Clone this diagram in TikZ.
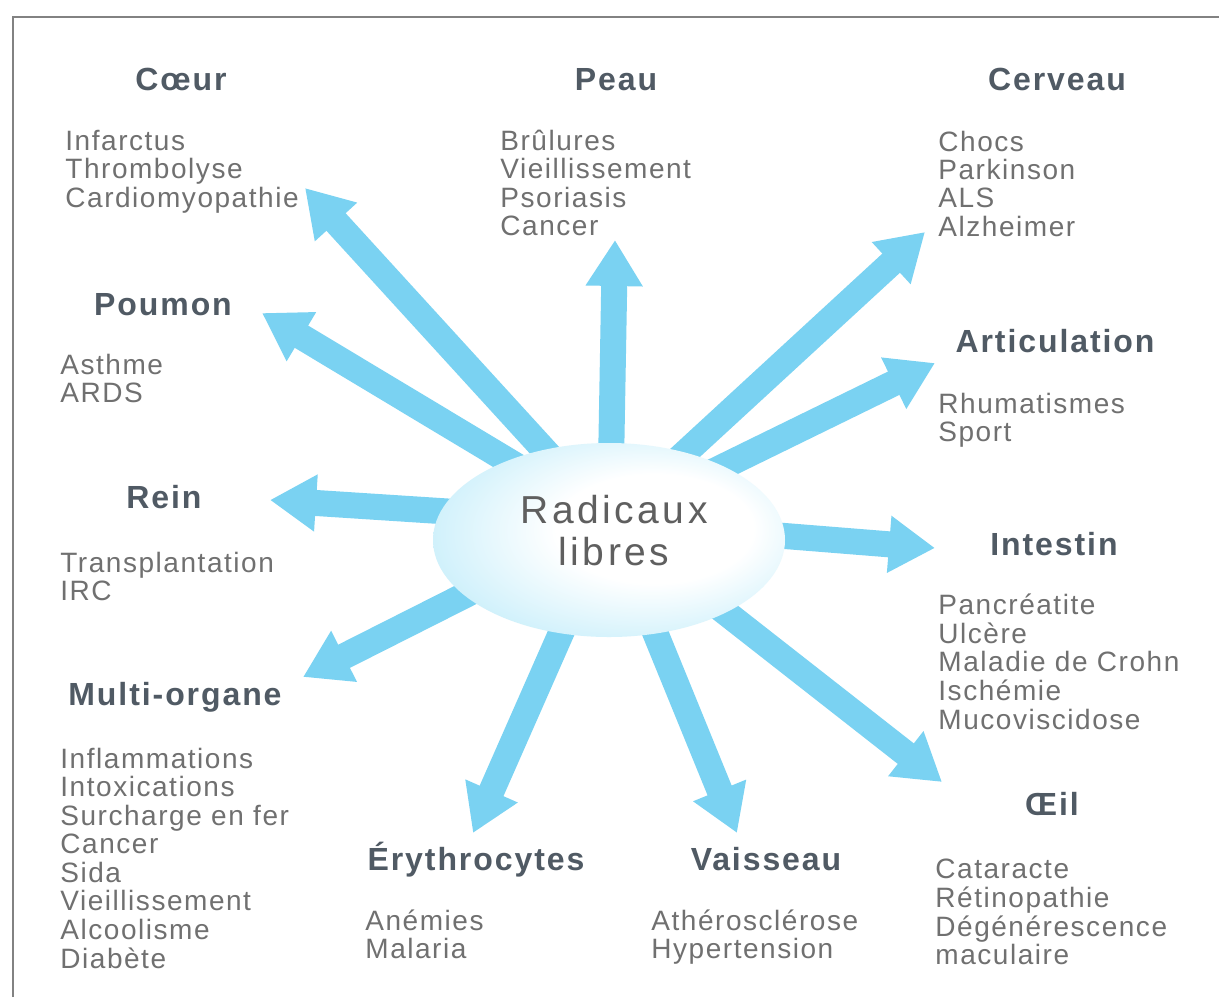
\documentclass[tikz,border=0pt]{standalone}
\usepackage{fontspec}
\setmainfont{Liberation Sans}
\newfontfamily\bodyf[LetterSpace=5.5]{Liberation Sans}
\newfontfamily\headf[LetterSpace=6]{Liberation Sans}
\newfontfamily\centf[LetterSpace=9]{Liberation Sans}
\usetikzlibrary{arrows.meta,shapes.geometric}
\definecolor{arrowc}{RGB}{122,210,242}
\definecolor{bodyc}{RGB}{112,112,112}
\definecolor{headc}{RGB}{80,90,100}
\definecolor{centc}{RGB}{95,95,95}
\definecolor{rlc}{RGB}{205,240,251}
\definecolor{framec}{RGB}{130,130,130}
\pgfdeclareradialshading{rlshade}{\pgfpoint{9bp}{4bp}}{color(0bp)=(white); color(14bp)=(white); color(30bp)=(rlc); color(50bp)=(rlc)}
\newcommand\ilist[1]{\begin{tabular}[t]{@{}l@{}}#1\end{tabular}}
\tikzset{
  bigarrow/.style={draw=arrowc, line width=13pt, -{Triangle[width=27pt,length=23pt]}},
  headtxt/.style={anchor=base, inner sep=0pt, text=headc, font={\headf\bfseries\fontsize{16}{16}\selectfont}},
  bodytxt/.style={anchor=base west, inner sep=0pt, text=bodyc, font={\bodyf\fontsize{14}{14}\selectfont}},
  centtxt/.style={align=center, inner sep=0pt, text=centc, font={\centf\fontsize{19.5}{21}\selectfont}},
  hubshape/.style={ellipse, draw=none, shading=rlshade, minimum width=176pt, minimum height=97pt, inner sep=0pt}
}
\begin{document}
\begin{tikzpicture}[x=0.5pt,y=-0.5pt]
\useasboundingbox (0,0) rectangle (1219,997);
\fill[white] (0,0) rectangle (1219,997);
% frame
\draw[framec, line width=0.9pt] (13,997) -- (13,17) -- (1219,17);

% arrow ends
\coordinate (hub) at (610,522);
\coordinate (tCoeur) at (305,188);
\coordinate (tPoumon) at (262,313);
\coordinate (tPeau) at (615,240);
\coordinate (tCerveau) at (925,232);
\coordinate (tArtic) at (935,363);
\coordinate (tRein) at (270,500);
\coordinate (tIntestin) at (935,548);
\coordinate (tMulti) at (303,677);
\coordinate (tEryth) at (473,833);
\coordinate (tVaiss) at (737,833);
\coordinate (tOeil) at (942,782);

\foreach \t in {tCoeur,tPoumon,tPeau,tCerveau,tArtic,tRein,tIntestin,tMulti,tEryth,tVaiss,tOeil}
  \draw[bigarrow] (hub) -- (\t);

% centre
\node[hubshape] (rl) at (609,540) {};
\node[centtxt] (rlt) at (614,531) {Radicaux\\libres};

% headings
\node[headtxt] (hCoeur) at (181,90) {Cœur};
\node[headtxt] (hPeau) at (616,90) {Peau};
\node[headtxt] (hCerveau) at (1057,90) {Cerveau};
\node[headtxt] (hPoumon) at (163,315) {Poumon};
\node[headtxt] (hArtic) at (1055,352) {Articulation};
\node[headtxt] (hRein) at (164,508) {Rein};
\node[headtxt] (hIntestin) at (1054,555) {Intestin};
\node[headtxt] (hMulti) at (175,705) {Multi-organe};
\node[headtxt] (hOeil) at (1052,815) {Œil};
\node[headtxt] (hEryth) at (476,870) {Érythrocytes};
\node[headtxt] (hVaiss) at (766,870) {Vaisseau};

% lists
\node[bodytxt] (lCoeur) at (65,150) {\ilist{Infarctus\\Thrombolyse\\Cardiomyopathie}};
\node[bodytxt] (lPeau) at (500,150) {\ilist{Brûlures\\Vieillissement\\Psoriasis\\Cancer}};
\node[bodytxt] (lCerveau) at (938,151) {\ilist{Chocs\\Parkinson\\ALS\\Alzheimer}};
\node[bodytxt] (lPoumon) at (60,374) {\ilist{Asthme\\ARDS}};
\node[bodytxt] (lArtic) at (938,413) {\ilist{Rhumatismes\\Sport}};
\node[bodytxt] (lRein) at (60,572) {\ilist{Transplantation\\IRC}};
\node[bodytxt] (lIntestin) at (938,614) {\ilist{Pancréatite\\Ulcère\\Maladie de Crohn\\Ischémie\\Mucoviscidose}};
\node[bodytxt] (lMulti) at (60,768) {\ilist{Inflammations\\Intoxications\\Surcharge en fer\\Cancer\\Sida\\Vieillissement\\Alcoolisme\\Diabète}};
\node[bodytxt] (lEryth) at (365,930) {\ilist{Anémies\\Malaria}};
\node[bodytxt] (lVaiss) at (651,930) {\ilist{Athérosclérose\\Hypertension}};
\node[bodytxt] (lOeil) at (935,878) {\ilist{Cataracte\\Rétinopathie\\Dégénérescence\\maculaire}};
\end{tikzpicture}
\end{document}
